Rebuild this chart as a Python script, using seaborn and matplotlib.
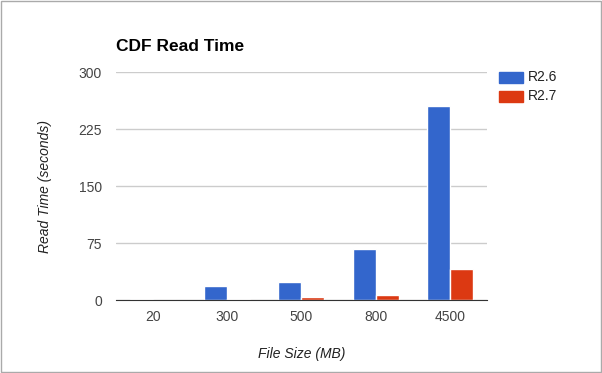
import seaborn as sns
import pandas as pd
import matplotlib.pyplot as plt
from matplotlib.patches import Rectangle

sizes = ['20', '300', '500', '800', '4500']
r26 = [1.3, 18.4, 23.7, 67.2, 255.6]
r27 = [0.2, 1.7, 3.9, 6.6, 40.8]
versions = ['R2.6', 'R2.7']

df = pd.DataFrame({'size': sizes * 2,
                   'time': r26 + r27,
                   'version': [versions[0]] * 5 + [versions[1]] * 5})

sns.set_style('white')
plt.rcParams['font.family'] = ['Liberation Sans', 'DejaVu Sans']

fig = plt.figure(figsize=(6.02, 3.73), dpi=100)
ax = fig.add_axes([0.1927, 0.1957, 0.616, 0.6103])

sns.barplot(x='size', y='time', hue='version', data=df, order=sizes,
            palette=['#3366cc', '#dc3912'], width=0.62, saturation=1,
            ax=ax, legend=False)

ax.set_ylim(0, 300)
ax.set_xlim(-0.5, 4.5)
ax.set_yticks([0, 75, 150, 225, 300])
ax.grid(axis='y', color='#cccccc', linewidth=1)
ax.set_axisbelow(True)
for s in ['top', 'right', 'left']:
    ax.spines[s].set_visible(False)
ax.spines['bottom'].set_color('#333333')
ax.tick_params(axis='both', length=0, labelsize=10, colors='#444444', pad=7)
ax.tick_params(axis='y', pad=10)
ax.set_xlabel('File Size (MB)', fontstyle='italic', fontsize=10, color='#222222', labelpad=17)
ax.set_ylabel('Read Time (seconds)', fontstyle='italic', fontsize=10, color='#222222', labelpad=19)
fig.text(0.1927, 1 - 51 / 373, 'CDF Read Time', fontsize=12.5, fontweight='bold',
         color='black', va='baseline')

# legend
lx = 499 / 602
for i, (v, c) in enumerate(zip(versions, ['#3366cc', '#dc3912'])):
    y = 1 - (77 + i * 19) / 373
    fig.patches.append(Rectangle((lx, y - 11 / 373 / 2), 24 / 602, 11 / 373,
                                 transform=fig.transFigure, color=c))
    fig.text(lx + 29 / 602, y, v, fontsize=10, va='center', color='#222222')

fig.patches.append(Rectangle((0.001, 0.002), 0.997, 0.996, transform=fig.transFigure,
                             fill=False, edgecolor='#aaaaaa', linewidth=1))

fig.savefig('out.png', dpi=100)
